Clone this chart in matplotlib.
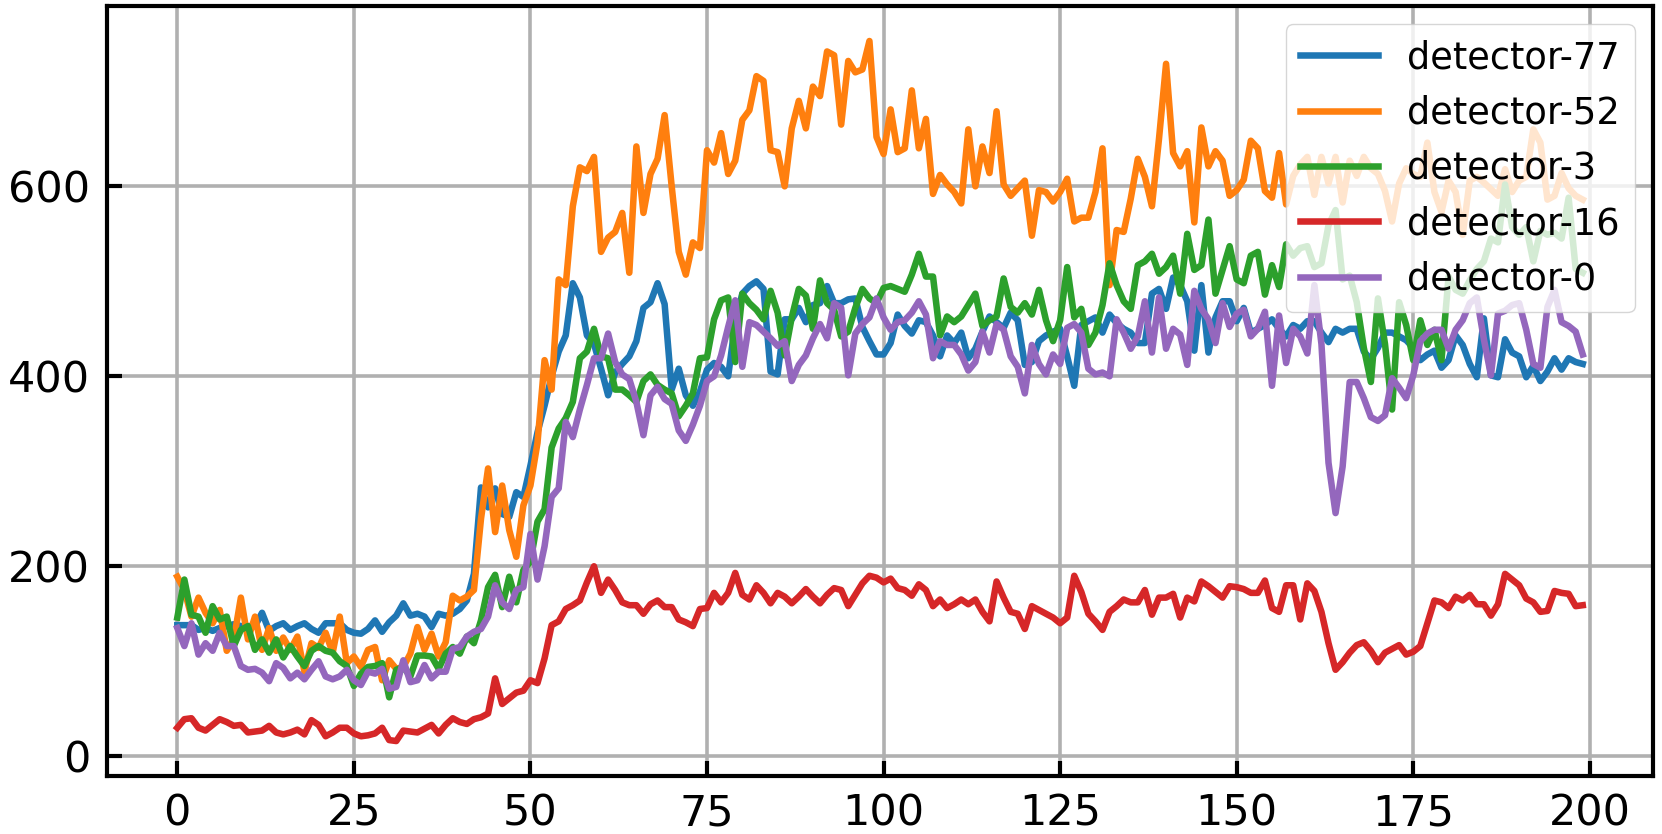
import numpy as np
import matplotlib
matplotlib.use("Agg")
import matplotlib.pyplot as plt

# detector readings, one value per time step (0..199)
det_77 = [138, 138, 138, 133, 135, 132, 135, 137, 139, 137,
          137, 137, 151, 132, 137, 140, 133, 137, 140, 134,
          130, 140, 140, 140, 133, 130, 129, 134, 143, 131,
          141, 148, 161, 148, 150, 147, 136, 150, 148, 150,
          155, 164, 192, 283, 262, 282, 255, 252, 278, 273,
          306, 341, 369, 400, 426, 443, 498, 483, 443, 434,
          408, 380, 404, 413, 421, 437, 472, 478, 498, 476,
          386, 408, 380, 369, 384, 407, 414, 410, 400, 457,
          487, 495, 500, 492, 405, 402, 460, 460, 472, 457,
          475, 477, 495, 477, 477, 481, 482, 452, 437, 423,
          423, 435, 465, 453, 445, 459, 457, 443, 421, 443,
          435, 446, 419, 429, 447, 463, 457, 451, 467, 459,
          412, 415, 437, 443, 447, 450, 421, 390, 454, 458,
          462, 446, 465, 456, 450, 446, 435, 435, 487, 492,
          471, 504, 496, 479, 427, 496, 425, 462, 479, 479,
          458, 472, 446, 450, 454, 460, 450, 442, 454, 450,
          458, 458, 446, 436, 450, 446, 450, 450, 426, 418,
          430, 446, 446, 442, 438, 430, 417, 423, 427, 409,
          417, 443, 433, 413, 399, 461, 401, 399, 439, 425,
          421, 399, 411, 395, 405, 419, 407, 419, 415, 413]

det_52 = [189, 175, 147, 167, 151, 140, 154, 111, 123, 167,
          123, 147, 112, 135, 111, 125, 112, 126, 89, 119,
          114, 130, 109, 147, 98, 105, 94, 112, 115, 80,
          101, 92, 94, 108, 136, 112, 129, 105, 120, 169,
          164, 168, 175, 250, 303, 236, 285, 238, 210, 264,
          285, 330, 417, 386, 502, 496, 579, 620, 616, 631,
          531, 546, 552, 572, 509, 642, 572, 613, 629, 675,
          600, 531, 507, 541, 535, 638, 625, 656, 613, 627,
          670, 680, 716, 711, 638, 636, 600, 661, 690, 661,
          705, 695, 742, 738, 665, 732, 720, 723, 753, 652,
          634, 681, 636, 640, 701, 640, 671, 592, 612, 602,
          594, 582, 660, 600, 642, 614, 679, 602, 590, 598,
          606, 548, 596, 594, 584, 594, 608, 563, 567, 567,
          594, 640, 496, 554, 552, 587, 629, 610, 579, 650,
          729, 635, 621, 637, 562, 662, 621, 637, 627, 590,
          596, 607, 648, 640, 595, 588, 635, 581, 611, 623,
          631, 591, 631, 603, 631, 583, 627, 611, 631, 619,
          613, 595, 563, 603, 619, 613, 610, 646, 594, 573,
          606, 594, 549, 606, 610, 604, 597, 590, 618, 594,
          606, 610, 660, 646, 586, 590, 614, 598, 590, 586]

det_3 = [146, 186, 149, 147, 130, 158, 144, 147, 116, 133,
         137, 112, 123, 109, 123, 104, 116, 105, 95, 111,
         116, 111, 109, 100, 95, 74, 87, 94, 95, 98,
         62, 91, 94, 84, 106, 106, 105, 92, 108, 115,
         108, 126, 119, 143, 178, 191, 157, 189, 162, 196,
         205, 247, 260, 325, 345, 356, 373, 419, 426, 450,
         421, 419, 386, 386, 380, 373, 395, 402, 391, 386,
         382, 358, 369, 382, 419, 420, 460, 480, 483, 415,
         487, 477, 470, 460, 490, 467, 422, 462, 492, 485,
         450, 501, 477, 470, 442, 447, 472, 492, 482, 477,
         493, 495, 492, 489, 507, 529, 505, 505, 443, 463,
         457, 463, 475, 487, 453, 459, 463, 503, 473, 467,
         477, 465, 491, 459, 437, 459, 515, 462, 471, 433,
         446, 475, 519, 496, 479, 471, 517, 521, 529, 508,
         515, 527, 487, 550, 512, 517, 565, 487, 512, 537,
         502, 498, 527, 531, 486, 517, 494, 539, 527, 535,
         537, 515, 519, 559, 575, 502, 506, 478, 430, 394,
         482, 434, 365, 478, 454, 417, 459, 433, 449, 417,
         505, 491, 487, 501, 513, 521, 545, 541, 602, 557,
         549, 557, 521, 553, 549, 551, 545, 588, 513, 509]

det_16 = [30, 39, 40, 30, 27, 33, 39, 36, 32, 33,
          25, 26, 27, 32, 25, 23, 25, 28, 23, 38,
          33, 21, 25, 30, 30, 24, 21, 22, 24, 30,
          17, 16, 27, 26, 25, 29, 33, 24, 33, 40,
          36, 34, 39, 41, 45, 82, 55, 61, 67, 69,
          80, 77, 103, 138, 142, 155, 159, 164, 183, 200,
          172, 186, 175, 162, 159, 159, 150, 160, 164, 157,
          157, 144, 141, 137, 155, 156, 172, 162, 172, 193,
          170, 165, 180, 172, 161, 172, 168, 161, 168, 176,
          168, 161, 170, 177, 175, 158, 170, 182, 190, 188,
          183, 187, 177, 175, 169, 181, 175, 158, 165, 156,
          160, 165, 160, 165, 152, 142, 184, 167, 152, 150,
          134, 158, 154, 150, 146, 140, 146, 190, 173, 150,
          142, 133, 152, 158, 165, 162, 162, 175, 149, 167,
          167, 171, 146, 167, 163, 184, 179, 173, 167, 179,
          178, 176, 172, 172, 185, 156, 152, 180, 180, 144,
          182, 174, 152, 119, 91, 99, 109, 117, 120, 111,
          99, 109, 113, 117, 107, 110, 116, 140, 164, 162,
          156, 168, 164, 170, 160, 160, 148, 160, 192, 186,
          180, 166, 162, 152, 153, 174, 172, 171, 158, 159]

det_0 = [135, 116, 140, 107, 119, 111, 130, 116, 116, 95,
         91, 92, 88, 79, 98, 93, 82, 88, 81, 91,
         100, 84, 81, 84, 91, 80, 75, 89, 87, 92,
         71, 73, 101, 78, 80, 96, 82, 89, 89, 113,
         115, 126, 131, 134, 147, 180, 162, 155, 175, 178,
         234, 186, 221, 273, 282, 352, 336, 365, 391, 419,
         419, 445, 415, 402, 397, 373, 338, 380, 389, 376,
         371, 343, 332, 349, 369, 395, 400, 422, 452, 480,
         410, 457, 454, 447, 440, 432, 437, 395, 412, 422,
         440, 455, 440, 477, 472, 401, 445, 455, 462, 482,
         462, 449, 457, 459, 467, 479, 465, 419, 437, 433,
         433, 423, 406, 415, 447, 425, 455, 449, 421, 410,
         382, 433, 413, 402, 423, 413, 451, 455, 446, 408,
         402, 404, 400, 460, 446, 429, 442, 479, 425, 483,
         429, 450, 444, 412, 490, 471, 460, 435, 477, 452,
         466, 470, 442, 450, 468, 390, 464, 414, 450, 442,
         424, 496, 434, 309, 256, 305, 394, 394, 377, 357,
         353, 359, 398, 388, 377, 401, 437, 445, 449, 449,
         429, 449, 459, 477, 483, 439, 401, 466, 469, 475,
         477, 449, 413, 409, 473, 491, 457, 453, 447, 423]

labels = ['detector-77', 'detector-52', 'detector-3', 'detector-16', 'detector-0']
series = [det_77, det_52, det_3, det_16, det_0]

t = np.arange(len(det_77))

fig = plt.figure(figsize=(16.62, 8.34), dpi=100)
ax = fig.add_axes([0.0644, 0.0695, 0.9302, 0.9233])

for vals, name in zip(series, labels):
    ax.plot(t, vals, linewidth=4.7, label=name)

ax.grid(True, color='#b0b0b0', linewidth=2.6)
ax.set_xticks([0, 25, 50, 75, 100, 125, 150, 175, 200])
ax.set_yticks([0, 200, 400, 600])
ax.tick_params(direction='in', length=11, width=3, labelsize=31, pad=12)
for s in ax.spines.values():
    s.set_linewidth(3)

ax.legend(loc='upper right', fontsize=26.5, handlelength=2.1, borderaxespad=0.5)

fig.savefig('out.png', dpi=100)
